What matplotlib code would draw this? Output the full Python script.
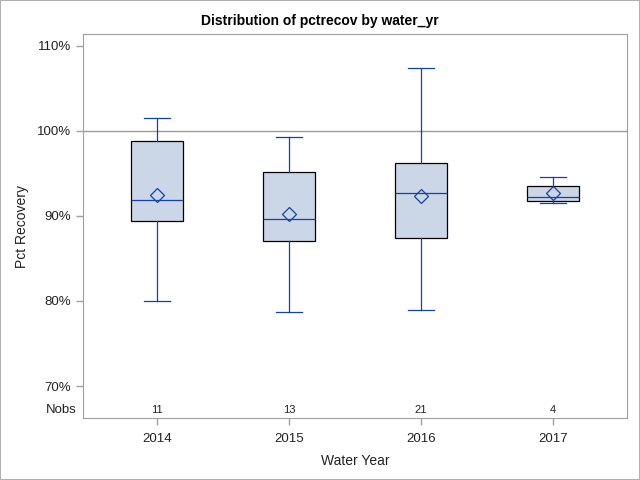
import matplotlib
matplotlib.use("Agg")
import matplotlib.pyplot as plt
from matplotlib.patches import Rectangle
import matplotlib.transforms as mtransforms

plt.rcParams['font.family'] = ['Liberation Sans', 'DejaVu Sans']

years = ["2014", "2015", "2016", "2017"]
nobs = [11, 13, 21, 4]
whislo = [79.96, 78.67, 78.9, 91.49]
q1 = [89.38, 87.02, 87.38, 91.73]
med = [91.88, 89.65, 92.67, 92.2]
q3 = [98.79, 95.14, 96.2, 93.49]
whishi = [101.49, 99.26, 107.38, 94.55]
means = [92.44, 90.24, 92.35, 92.67]
yticks = [70, 80, 90, 100, 110]

blue = '#1443a3'
gray = '#a0a0a0'
fill = '#cbd6e6'

fig = plt.figure(figsize=(6.4, 4.8), dpi=100)
ax = fig.add_axes([83/640, 62/480, (627-83)/640, (418-34)/480])

stats = []
for i in range(len(years)):
    stats.append(dict(label=years[i], whislo=whislo[i], q1=q1[i], med=med[i],
                      q3=q3[i], whishi=whishi[i], mean=means[i], fliers=[]))
positions = list(range(1, len(years) + 1))
ax.bxp(stats, positions=positions, widths=0.4, patch_artist=True, showmeans=True,
       boxprops=dict(facecolor=fill, edgecolor='black', linewidth=0.9),
       whiskerprops=dict(color=blue, linewidth=0.9),
       capprops=dict(color=blue, linewidth=0.9),
       medianprops=dict(color=blue, linewidth=0.9),
       meanprops=dict(marker='D', markerfacecolor='none', markeredgecolor=blue,
                      markersize=7, markeredgewidth=0.9),
       capwidths=0.2, zorder=3)

ax.axhline(100, color='#9a9a9a', linewidth=1.0, zorder=1)

ax.set_xlim(0.44, 4.56)
ax.set_ylim(66.24, 111.4)
ax.set_yticks(yticks)
ax.set_yticklabels([f"{t}%" for t in yticks])
ax.set_xticks(positions)
ax.set_xticklabels(years)

for s in ax.spines.values():
    s.set_color(gray)
ax.tick_params(axis='both', colors=gray, labelcolor='#222222', labelsize=9.5, length=5, width=1)
ax.tick_params(axis='x', pad=6)

trans = mtransforms.blended_transform_factory(ax.transData, ax.transAxes)
for p, n in zip(positions, nobs):
    ax.text(p, 0.02, str(n), transform=trans, ha='center', va='center', fontsize=8, color='#222222')
ax.text(-0.012, 0.02, "Nobs", transform=ax.transAxes, ha='right', va='center', fontsize=9.5, color='#222222')

ax.set_xlabel("Water Year", fontsize=10, color='#222222', labelpad=6)
ax.set_ylabel("Pct Recovery", fontsize=10, color='#222222', labelpad=6)
fig.text(0.5, 459/480, "Distribution of pctrecov by water_yr", ha='center', va='center',
         fontsize=10, fontweight='bold', color='black')

fig.patches.append(Rectangle((0, 0), 1, 1, transform=fig.transFigure, fill=False,
                             edgecolor='#b0b0b0', linewidth=1.5))

fig.savefig("out.png", dpi=100)
